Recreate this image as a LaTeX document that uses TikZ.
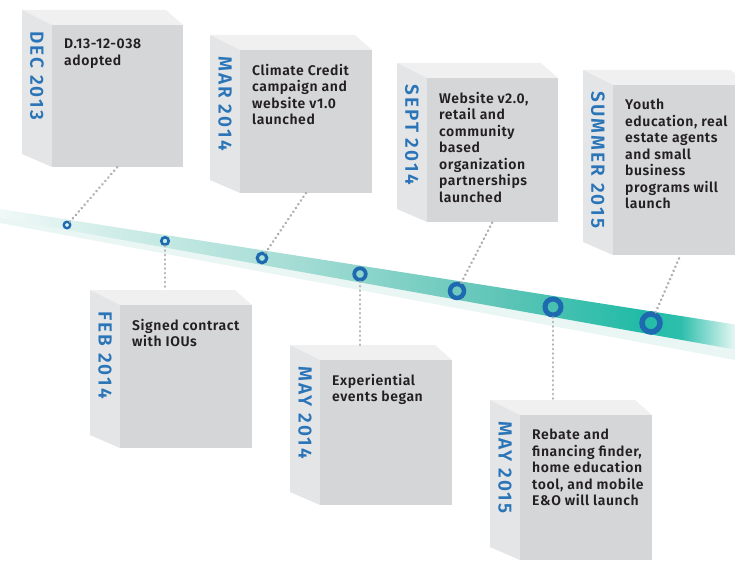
\documentclass[tikz,border=0pt]{standalone}
\usepackage{fontspec}
\setmainfont{Fira Sans}
\newfontfamily\bodyfont{Fira Sans SemiBold}[LetterSpace=4]
\newfontfamily\datefont{Fira Sans SemiBold}[LetterSpace=11]
\usetikzlibrary{calc}
\definecolor{frontc}{HTML}{D5D6D8}
\definecolor{sidec}{HTML}{E4E5E6}
\definecolor{topc}{HTML}{F0F0F1}
\definecolor{datec}{HTML}{2A74B8}
\definecolor{ringc}{HTML}{1E6AB0}
\definecolor{dotc}{HTML}{AEAEAE}
\definecolor{textc}{HTML}{231F20}
\definecolor{bza}{HTML}{F0F9F7}
\definecolor{bzb}{HTML}{D3EEEA}
\definecolor{bzc}{HTML}{A3DCD4}
\definecolor{bzd}{HTML}{5FC5B7}
\definecolor{bze}{HTML}{22BBA7}
\definecolor{bzf}{HTML}{2DBFAC}
\definecolor{bzg}{HTML}{E6F6F3}
\definecolor{glowc}{HTML}{EAF6F4}
\pgfdeclarehorizontalshading{bandshade}{100bp}{color(0bp)=(bza); color(25bp)=(bza); color(31.8bp)=(bzb); color(45.4bp)=(bzc); color(59bp)=(bzd); color(68.5bp)=(bze); color(71.3bp)=(bzf); color(75bp)=(bzg); color(100bp)=(bzg)}
\newcommand\tlcube[7]{%
  \fill[topc] (#2-30,#3-15) -- (#4-17,#3-15) -- (#4,#3) -- (#2,#3) -- cycle;
  \fill[sidec] (#2-30,#3-15) -- (#2,#3) -- (#2,#5) -- (#2-30,#5-13) -- cycle;
  \node[frontface, minimum width={#4-#2}, minimum height={#5-#3}] (#1) at ({(#2+#4)/2},{(#3+#5)/2}) {};
  \coordinate (#1back) at ({(#2+#4)/2},#3-15);
  \node[datelabel] (#1d) at (#2-15,#3+6) {#6};
  \node[bodytext] (#1t) at (#2+12,#3+14) {#7};
}
\begin{document}
\begin{tikzpicture}[x=1pt,y=-1pt,
  frontface/.style={fill=frontc, inner sep=0pt, outer sep=0pt, draw=none, rectangle},
  datelabel/.style={font=\datefont\fontsize{19}{19}\selectfont, text=datec, rotate=-90, anchor=west, inner sep=0pt},
  bodytext/.style={font=\bodyfont\fontsize{14}{16.5}\selectfont, text=textc, align=left, anchor=north west, inner sep=0pt},
  ring/.style={circle, draw=ringc, inner sep=0pt},
  dots/.style={draw=dotc, line width=2.8pt, line cap=round, dash pattern=on 0.1pt off 4.4pt}]
\useasboundingbox (0,0) rectangle (735,561);
\clip (0,0) rectangle (735,561);
% timeline band
\fill[glowc] (0,217) -- (735,348) -- (735,360) -- (0,223) -- cycle;
\shade[shading=bandshade] (0,209) -- (735,324.5) -- (735,349.5) -- (0,218) -- cycle;
% boxes
\tlcube{b1}{52}{25}{183}{167}{DEC 2013}{D.13-12-038\\adopted}
\tlcube{b2}{240}{50}{372}{193}{MAR 2014}{Climate Credit\\campaign and\\website v1.0\\launched}
\tlcube{b3}{427}{78}{558}{222}{SEPT 2014}{Website v2.0,\\retail and\\community\\based\\organization\\partnerships\\launched}
\tlcube{b4}{613}{85}{748}{255}{SUMMER 2015}{Youth\\education, real\\estate agents\\and small\\business\\programs will\\launch}
\tlcube{b5}{120}{305}{252}{448}{FEB 2014}{Signed contract\\with IOUs}
\tlcube{b6}{320}{360}{452}{505}{MAY 2014}{Experiential\\events began}
\tlcube{b7}{520}{415}{652}{560}{MAY 2015}{Rebate and\\financing finder,\\home education\\tool, and mobile\\E\&O will launch}
% milestones
\node[ring, minimum size=6.5pt, line width=2.3pt] (c1) at (67,225) {};
\node[ring, minimum size=7.5pt, line width=2.6pt] (c2) at (165,241) {};
\node[ring, minimum size=9.5pt, line width=3.2pt] (c3) at (262,258) {};
\node[ring, minimum size=11.5pt, line width=3.8pt] (c4) at (360,274) {};
\node[ring, minimum size=14pt, line width=4.5pt] (c5) at (457,291) {};
\node[ring, minimum size=16pt, line width=5pt] (c6) at (553,307) {};
\node[ring, minimum size=18pt, line width=5.5pt] (c7) at (651,323) {};
% connectors
\draw[dots] (c1) -- (b1.south);
\draw[dots] (c2) -- (c2 |- b5back);
\draw[dots] (c3) -- (b2.south);
\draw[dots] (c4) -- (c4 |- b6back);
\draw[dots] (c5) -- (b3.south);
\draw[dots] (c6) -- (c6 |- b7back);
\draw[dots] (c7) -- (b4.south);
\end{tikzpicture}
\end{document}
